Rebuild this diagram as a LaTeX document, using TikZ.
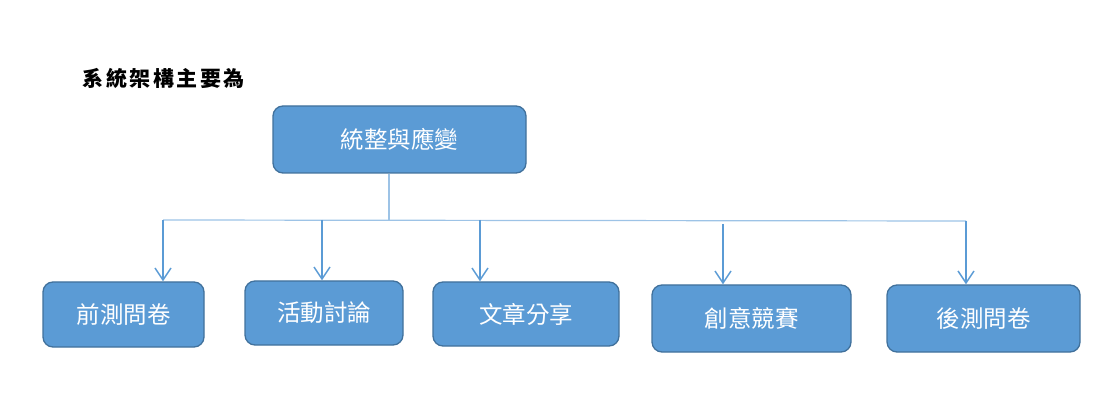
\documentclass[tikz,border=0pt]{standalone}
\usepackage{fontspec}
\usepackage{xcolor}
\usepackage{tikz}
\usetikzlibrary{arrows.meta, positioning, calc}
\newfontfamily\cjkfont{Noto Sans CJK TC}
\newfontfamily\cjktitle[LetterSpace=12]{Noto Sans CJK TC}
\definecolor{boxblue}{HTML}{5B9BD5}
\definecolor{boxedge}{HTML}{41719C}
\definecolor{linkblue}{HTML}{5B9BD5}
\definecolor{buslight}{HTML}{9DC3E6}

\begin{document}
\begin{tikzpicture}[x=1pt, y=1pt,
    unitbox/.style={draw=boxedge, fill=boxblue, line width=1.3pt, rounded corners=10pt,
      inner sep=0pt, font=\cjkfont\fontsize{23.5}{26}\selectfont, text=white},
    busline/.style={buslight, line width=1.2pt},
    downarrow/.style={-{Straight Barb[length=12pt, width=16pt]}, linkblue, line width=1.5pt}]
  \useasboundingbox (0,0) rectangle (1118,-419);

  % Title
  \node[anchor=west, font=\cjktitle\bfseries\fontsize{21}{24}\selectfont] (title) at (79,-78) {系統架構主要為};

  % Top box
  \node[unitbox, minimum width=253pt, minimum height=67pt] (top) at (399.5,-139.5) {統整與應變};

  % Bottom boxes
  \node[unitbox, minimum width=161pt, minimum height=65pt] (pre) at (123.5,-314.5) {前測問卷};
  \node[unitbox, minimum width=158pt, minimum height=64pt] (talk) at (324,-313) {活動討論};
  \node[unitbox, minimum width=186pt, minimum height=64pt] (share) at (526,-314) {文章分享};
  \node[unitbox, minimum width=199pt, minimum height=67pt] (contest) at (751.5,-318.5) {創意競賽};
  \node[unitbox, minimum width=193pt, minimum height=67pt] (post) at (983.5,-318.5) {後測問卷};

  % Bus
  \coordinate (busL) at (163,-220);
  \coordinate (busM) at (389,-220);
  \coordinate (busR) at (966,-221);
  \draw[busline] (top.south -| busM) -- (busM);
  \draw[busline] (busL) -- (busR);

  % Drops
  \coordinate (d1) at (163,-220);
  \coordinate (d2) at (322,-220);
  \coordinate (d3) at (480,-220);
  \coordinate (d4) at (723,-224);
  \coordinate (d5) at (966,-221);
  \draw[downarrow] (d1) -- (d1 |- pre.north);
  \draw[downarrow] (d2) -- (d2 |- talk.north);
  \draw[downarrow] (d3) -- (d3 |- share.north);
  \draw[downarrow] (d4) -- (d4 |- contest.north);
  \draw[downarrow] (d5) -- (d5 |- post.north);
\end{tikzpicture}
\end{document}
